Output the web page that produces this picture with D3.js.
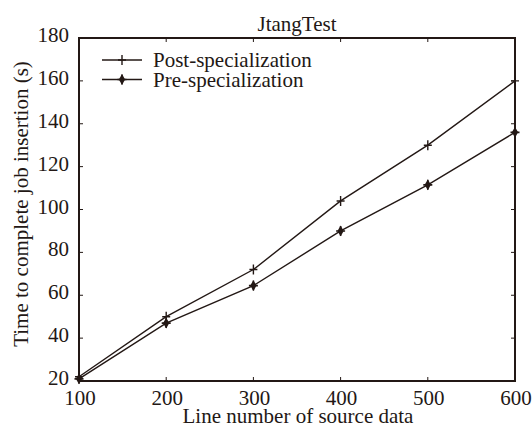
<!DOCTYPE html>
<html>
<head>
<meta charset="utf-8">
<script src="https://cdn.jsdelivr.net/npm/d3@7"></script>
<style>
  body { margin: 0; background: #fff; }
  svg text { font-family: "Liberation Serif", "DejaVu Serif", serif; fill: #231815; }
</style>
</head>
<body>
<svg id="chart" width="532" height="426"></svg>
<script>
// chart values
var lineNumbers = [100, 200, 300, 400, 500, 600];
var postSpecialization = [22, 50, 72, 104, 130, 160];
var preSpecialization = [21, 47, 64.5, 90, 111.5, 136];
var xTicks = [100, 200, 300, 400, 500, 600];
var yTicks = [20, 40, 60, 80, 100, 120, 140, 160, 180];

var ink = "#231815";
var fontSize = 21;
var svg = d3.select("#chart");
var plotLeft = 79, plotRight = 515, plotTop = 38, plotBottom = 381;

var x = d3.scaleLinear().domain([100, 600]).range([plotLeft, plotRight]);
var y = d3.scaleLinear().domain([20, 180]).range([plotBottom, plotTop]);

// frame
svg.append("rect")
  .attr("x", plotLeft).attr("y", plotTop)
  .attr("width", plotRight - plotLeft).attr("height", plotBottom - plotTop)
  .attr("fill", "none").attr("stroke", ink).attr("stroke-width", 2);

// inward ticks on all four sides
var tickLen = 4;
xTicks.forEach(function(t)
{
  svg.append("line").attr("x1", x(t)).attr("x2", x(t))
    .attr("y1", plotBottom).attr("y2", plotBottom - tickLen)
    .attr("stroke", ink).attr("stroke-width", 1);
  svg.append("line").attr("x1", x(t)).attr("x2", x(t))
    .attr("y1", plotTop).attr("y2", plotTop + tickLen)
    .attr("stroke", ink).attr("stroke-width", 1);
  svg.append("text").attr("x", x(t) + 1).attr("y", plotBottom + 24)
    .attr("text-anchor", "middle").attr("font-size", fontSize).text(t);
});
yTicks.forEach(function(t)
{
  svg.append("line").attr("x1", plotLeft).attr("x2", plotLeft + tickLen)
    .attr("y1", y(t)).attr("y2", y(t))
    .attr("stroke", ink).attr("stroke-width", 1);
  svg.append("line").attr("x1", plotRight).attr("x2", plotRight - tickLen)
    .attr("y1", y(t)).attr("y2", y(t))
    .attr("stroke", ink).attr("stroke-width", 1);
  svg.append("text").attr("x", plotLeft - 10).attr("y", y(t) + 4)
    .attr("text-anchor", "end").attr("font-size", fontSize).text(t);
});

// titles
svg.append("text").attr("x", 297).attr("y", 31)
  .attr("text-anchor", "middle").attr("font-size", fontSize).text("JtangTest");
svg.append("text").attr("x", 298).attr("y", 423)
  .attr("text-anchor", "middle").attr("font-size", fontSize).text("Line number of source data");
svg.append("text")
  .attr("transform", "translate(28,204) rotate(-90)")
  .attr("text-anchor", "middle").attr("font-size", fontSize)
  .text("Time to complete job insertion (s)");

// series
var line = d3.line().x(function(d) { return x(d[0]); }).y(function(d) { return y(d[1]); });

function plusMarker(g, cx, cy)
{
  g.append("path")
    .attr("d", "M" + (cx - 4) + "," + cy + "H" + (cx + 4) + "M" + cx + "," + (cy - 5) + "V" + (cy + 5))
    .attr("stroke", ink).attr("stroke-width", 1.4).attr("fill", "none");
}
function starMarker(g, cx, cy)
{
  g.append("path")
    .attr("d", d3.symbol().type(d3.symbolDiamond).size(34)())
    .attr("transform", "translate(" + cx + "," + cy + ")")
    .attr("fill", ink);
  g.append("path")
    .attr("d", "M" + (cx - 4.5) + "," + cy + "H" + (cx + 4.5) + "M" + cx + "," + (cy - 5) + "V" + (cy + 5))
    .attr("stroke", ink).attr("stroke-width", 1.6).attr("fill", "none");
}

var series = [
  { values: postSpecialization, marker: plusMarker, label: "Post-specialization" },
  { values: preSpecialization, marker: starMarker, label: "Pre-specialization" }
];

series.forEach(function(s, i)
{
  var pts = lineNumbers.map(function(n, j) { return [n, s.values[j]]; });
  var g = svg.append("g");
  g.append("path").datum(pts).attr("d", line)
    .attr("fill", "none").attr("stroke", ink).attr("stroke-width", 1.4);
  pts.forEach(function(p) { s.marker(g, x(p[0]), y(p[1])); });

  // legend entry
  var ly = 60 + i * 19.5;
  svg.append("line").attr("x1", 102).attr("x2", 142).attr("y1", ly).attr("y2", ly)
    .attr("stroke", ink).attr("stroke-width", 1.4);
  s.marker(svg, 122, ly);
  svg.append("text").attr("x", 153).attr("y", ly + 7)
    .attr("font-size", fontSize).text(s.label);
});
</script>
</body>
</html>
